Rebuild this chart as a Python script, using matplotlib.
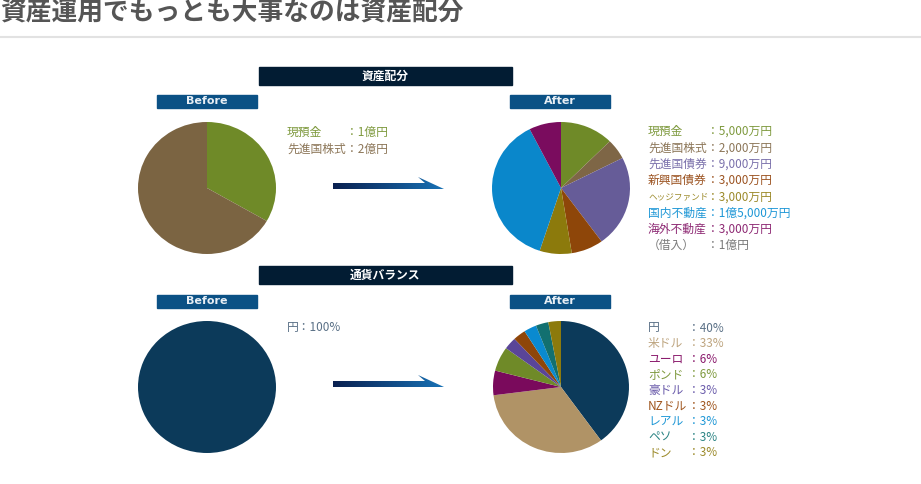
import matplotlib
matplotlib.use('Agg')
import matplotlib.pyplot as plt
import numpy as np
from matplotlib.patches import Polygon, Rectangle
from matplotlib.colors import LinearSegmentedColormap

plt.rcParams['font.family'] = ['Noto Sans CJK JP', 'DejaVu Sans']

W, H = 921, 484

# ---- data ----
title = '資産運用でもっとも大事なのは資産配分'

asset_title = '資産配分'
asset_before_labels = ['現預金', '先進国株式']
asset_before_values = [1, 2]  # 億円
asset_before_colors = ['#6f8a28', '#7b6442']
asset_before_text_colors = ['#7f9a3e', '#8c7658']

asset_after_labels = ['現預金', '先進国株式', '先進国債券', '新興国債券',
                      'ヘッジファンド', '国内不動産', '海外不動産']
asset_after_values = [5000, 2000, 9000, 3000, 3000, 15000, 3000]  # 万円
asset_after_colors = ['#6f8a28', '#7e6646', '#665c98', '#8e4609',
                      '#8c7a0c', '#0a87cb', '#7a0c5e']
asset_after_text_colors = ['#7f9a3e', '#8c7658', '#7a70ab', '#9c5422',
                           '#9c8a2a', '#1e97d6', '#8e2a74']
debt_label = '（借入）'
debt_value = 10000  # 万円

currency_title = '通貨バランス'
currency_before_labels = ['円']
currency_before_values = [100]
currency_labels = ['円', '米ドル', 'ユーロ', 'ポンド', '豪ドル',
                   'NZドル', 'レアル', 'ペソ', 'ドン']
currency_values = [40, 33, 6, 6, 3, 3, 3, 3, 3]  # %
currency_colors = ['#0c3a5a', '#b09366', '#7a0a5c', '#6f8a28', '#5a4598',
                   '#8e4609', '#0a8ad0', '#127070', '#8c7a0c']
currency_text_colors = ['#5a7086', '#bda47e', '#8a1a6c', '#7f9a3e', '#6b5cab',
                        '#a0561e', '#1e97d6', '#2b8484', '#9c8a2a']


def oku(v):
    return f'{v}億円'


def man_yen(v):
    o, m = divmod(v, 10000)
    s = ''
    if o:
        s += f'{o}億'
    if m:
        s += f'{m:,}万'
    return s + '円'


fig = plt.figure(figsize=(W / 100, H / 100), dpi=100)
ax = fig.add_axes([0, 0, 1, 1])
ax.set_xlim(0, W)
ax.set_ylim(H, 0)
ax.axis('off')

# page title + rule
ax.text(0, 12, title, fontsize=18.5, fontweight='bold', color='#555555',
        ha='left', va='center')
ax.plot([0, W], [37, 37], color='#e2e2e2', lw=1.5)


def header(y, text):
    ax.add_patch(Rectangle((259, y), 253, 18, color='#021c33', zorder=2))
    ax.text(385.5, y + 9, text, color='white', fontsize=8.5, fontweight='bold',
            ha='center', va='center', zorder=3)


def tag(x, y, text):
    ax.add_patch(Rectangle((x, y), 100, 13, color='#0b5185', zorder=2))
    ax.text(x + 50, y + 6.5, text, color='#e8eef4', fontsize=8,
            fontweight='bold', family='DejaVu Sans',
            ha='center', va='center', zorder=3)


arrow_cmap = LinearSegmentedColormap.from_list('arr', ['#0a2050', '#1872b6'])


def arrow(y):
    pts = [(333, y - 3), (425, y - 3), (418, y - 9), (444, y + 3), (333, y + 3)]
    poly = Polygon(pts, closed=True, facecolor='none', edgecolor='none')
    ax.add_patch(poly)
    grad = np.linspace(0, 1, 256).reshape(1, -1)
    im = ax.imshow(grad, cmap=arrow_cmap, aspect='auto',
                   extent=(333, 444, y + 3, y - 9), zorder=2)
    im.set_clip_path(poly)


def pie(cx, cy, rx, ry, values, colors):
    pa = fig.add_axes([(cx - rx) / W, 1 - (cy + ry) / H, 2 * rx / W, 2 * ry / H])
    pa.pie(values, colors=colors, startangle=90, counterclock=False,
           wedgeprops=dict(linewidth=0))
    pa.set_aspect('auto')
    pa.set_xlim(-1, 1)
    pa.set_ylim(-1, 1)
    pa.axis('off')


# ---- asset allocation ----
header(67, asset_title)
tag(157, 95, 'Before')
tag(510, 95, 'After')
pie(207, 188, 69, 66, asset_before_values, asset_before_colors)
pie(561, 188, 69, 66, asset_after_values, asset_after_colors)
arrow(186)

for i, (lab, v) in enumerate(zip(asset_before_labels, asset_before_values)):
    y = 132 + i * 17
    c = asset_before_text_colors[i]
    ax.text(287, y, lab, color=c, fontsize=8.5, va='center')
    ax.text(346, y, '：' + oku(v), color=c, fontsize=8.5, va='center')

rows = list(zip(asset_after_labels, asset_after_values, asset_after_text_colors))
rows.append((debt_label, debt_value, '#7a7a7a'))
for i, (lab, v, c) in enumerate(rows):
    y = 131.5 + i * 16.3
    fs = 6.2 if len(lab) > 6 else 8.5
    ax.text(648, y, lab, color=c, fontsize=fs, va='center')
    ax.text(707, y, '：' + man_yen(v), color=c, fontsize=8.5, va='center')

# ---- currency balance ----
header(266, currency_title)
tag(157, 295, 'Before')
tag(510, 295, 'After')
pie(207, 387, 69, 66, currency_before_values, [currency_colors[0]])
pie(561, 387, 68, 66, currency_values, currency_colors)
arrow(384)

ax.text(287, 328, f'{currency_before_labels[0]}：{currency_before_values[0]}%',
        color=currency_text_colors[0], fontsize=8.5, va='center')

for i, (lab, v, c) in enumerate(zip(currency_labels, currency_values,
                                    currency_text_colors)):
    y = 328 + i * 15.6
    ax.text(648, y, lab, color=c, fontsize=8.5, va='center')
    ax.text(688, y, f'：{v}%', color=c, fontsize=8.5, va='center')

fig.savefig('out.png', dpi=100)
